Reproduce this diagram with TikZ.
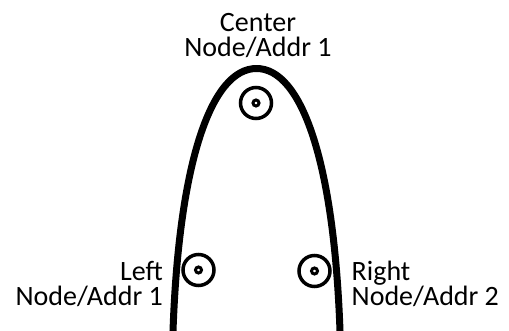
\documentclass[tikz,border=0pt]{standalone}
\usepackage{fontspec}
\setmainfont{Carlito}
\newcommand\twoR[2]{\vbox{\halign{\hfil##\cr #1\cr #2\cr}}}
\newcommand\twoL[2]{\vbox{\halign{##\hfil\cr #1\cr #2\cr}}}
\newcommand\twoC[2]{\vbox{\halign{\hfil##\hfil\cr #1\cr #2\cr}}}
\begin{document}
\begin{tikzpicture}[x=1pt,y=-1pt,
  lbl/.style={inner sep=0pt,font=\fontsize{28}{25.3}\selectfont},
  arch/.style={line width=7pt,line join=round},
  ringout/.style={circle,draw,line width=3.5pt,minimum size=31pt,inner sep=0pt},
  ringin/.style={circle,draw,line width=3pt,minimum size=6pt,inner sep=0pt}]
\path[use as bounding box] (0,0) rectangle (509,331);
\clip (0,0) rectangle (509,331);
\coordinate (bl) at (172.3,345);
\coordinate (l0) at (173,331);
\coordinate (top) at (256.5,68.5);
\coordinate (r0) at (340,331);
\coordinate (br) at (340.7,345);
\draw[arch] (bl) -- (l0) .. controls (179,161) and (211.5,68.5) .. (top)
  .. controls (301.5,68.5) and (334,161) .. (r0) -- (br);
% rings
\node[ringout] (co) at (256,103) {};
\node[ringin] (ci) at (co.center) {};
\node[ringout] (lo) at (198.5,270) {};
\node[ringin] (li) at (lo.center) {};
\node[ringout] (ro) at (314.5,271) {};
\node[ringin] (ri) at (ro.center) {};
% labels
\node[lbl,anchor=base] (ct) at (258,57) {\twoC{Center}{Node/Addr 1}};
\node[lbl,anchor=base east] (lt) at (163,305.5) {\twoR{Left}{Node/Addr 1}};
\node[lbl,anchor=base west] (rt) at (351.5,305.5) {\twoL{Right}{Node/Addr 2}};
\end{tikzpicture}
\end{document}
